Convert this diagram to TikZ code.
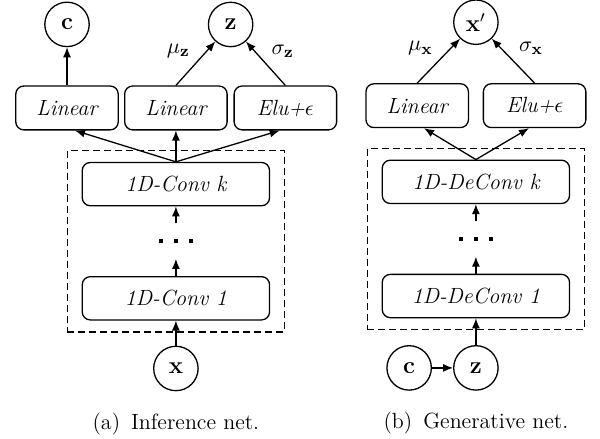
\documentclass[tikz,border=0pt]{standalone}
\usepackage{amsmath, amssymb}
\usepackage{tikz}
\usetikzlibrary{shapes, arrows.meta, positioning, calc, fit}

\tikzset{
    layer/.style={draw, rectangle, rounded corners=4pt, minimum width=3.29cm, minimum height=0.76cm, font=\fontsize{11}{13}\selectfont\itshape},
    unit/.style={draw, rectangle, rounded corners=4pt, minimum width=1.8cm, minimum height=0.77cm, font=\fontsize{11}{13}\selectfont\itshape},
    var/.style={draw, circle, minimum size=0.78cm, inner sep=0pt, font=\fontsize{11.5}{13}\selectfont},
    dotsnode/.style={minimum height=0.6cm, inner sep=0pt},
    group/.style={draw, dash pattern=on 3.5pt off 2pt, inner xsep=0.25cm, inner ysep=0.2cm},
}
\newcommand{\sqdots}{\rule{2.2pt}{2.2pt}\hspace{5.3pt}\rule{2.2pt}{2.2pt}\hspace{5.3pt}\rule{2.2pt}{2.2pt}}

\begin{document}
\begin{tikzpicture}[>={Latex[length=5pt, width=4pt]}, line width=0.65pt, font=\fontsize{11}{13}\selectfont]
    \useasboundingbox (0,0) rectangle (10.54,-7.71);

    % (a) inference net
    \node[layer] (conv1) at (3.09,-5.24) {1D-Conv 1};
    \node[dotsnode, above=0.3cm of conv1] (dots1) {\sqdots};
    \node[layer, above=0.3cm of dots1] (convk) {1D-Conv k};
    \node[unit, above=0.55cm of convk] (lin2) {Linear};
    \node[unit, left=0.09cm of lin2] (lin1) {Linear};
    \node[unit, right=0.1cm of lin2] (elu1) {Elu+$\epsilon$};
    \node[var, above=0.67cm of lin1] (c1) {$\mathbf{c}$};
    \node[var] (z1) at ($(lin2.north)!0.5!(elu1.north)+(0,1.07)$) {$\mathbf{z}$};
    \node[var, below=0.44cm of conv1] (x1) {$\mathbf{x}$};
    \node[group, fit=(convk)(conv1)] (enc) {};
    \node[below=0.25cm of x1] (capa) {(a)\enspace Inference net.};

    \draw[->] (x1) -- (conv1);
    \draw[->] (conv1) -- (dots1);
    \draw[->] (dots1) -- (convk);
    \draw[->] (convk.north) -- ([xshift=0.14cm]lin1.south);
    \draw[->] (convk.north) -- (lin2);
    \draw[->] (convk.north) -- ([xshift=-0.1cm]elu1.south);
    \draw[->] (lin1) -- (c1);
    \draw[->] (lin2.north) -- node[above left=-1pt] {$\mu_{\mathbf{z}}$} (z1);
    \draw[->] (elu1.north) -- node[above right=-1pt] {$\sigma_{\mathbf{z}}$} (z1);

    % (b) generative net
    \node[layer] (dconv1) at (8.36,-5.2) {1D-DeConv 1};
    \node[dotsnode, above=0.3cm of dconv1] (dots2) {\sqdots};
    \node[layer, above=0.3cm of dots2] (dconvk) {1D-DeConv k};
    \node[unit, above left=0.55cm and 0.12cm of dconvk.north] (lin3) {Linear};
    \node[unit, above right=0.55cm and 0.12cm of dconvk.north] (elu2) {Elu+$\epsilon$};
    \node[var] (xr) at ($(lin3.north)!0.5!(elu2.north)+(0,1.07)$) {$\mathbf{x}'$};
    \node[var, below=0.47cm of dconv1] (z2) {$\mathbf{z}$};
    \node[var, left=0.37cm of z2] (c2) {$\mathbf{c}$};
    \node[group, fit=(dconvk)(dconv1)] (dec) {};
    \node[below=0.25cm of z2] (capb) {(b)\enspace Generative net.};

    \draw[->] (c2) -- (z2);
    \draw[->] (z2) -- (dconv1);
    \draw[->] (dconv1) -- (dots2);
    \draw[->] (dots2) -- (dconvk);
    \draw[->] (dconvk.north) -- ([xshift=0.12cm]lin3.south);
    \draw[->] (dconvk.north) -- ([xshift=-0.1cm]elu2.south);
    \draw[->] (lin3.north) -- node[above left=-1pt] {$\mu_{\mathbf{x}}$} (xr);
    \draw[->] (elu2.north) -- node[above right=-1pt] {$\sigma_{\mathbf{x}}$} (xr);
\end{tikzpicture}
\end{document}
